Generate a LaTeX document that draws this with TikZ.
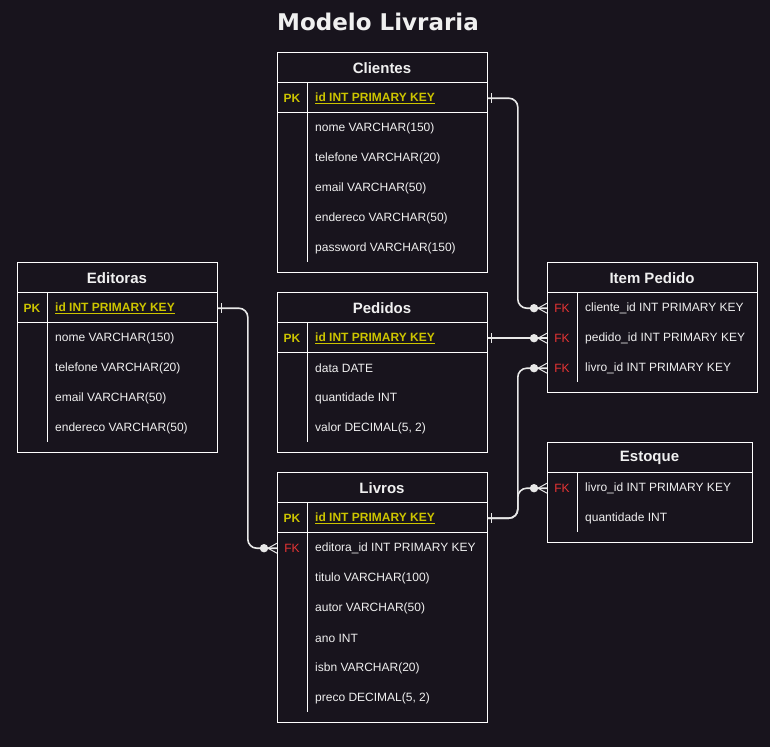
\documentclass[tikz,border=0pt]{standalone}
\usepackage{fontspec}
\setmainfont{Liberation Sans}
\newfontfamily\titlefont{DejaVu Sans}
\usepackage{tikz}
\usetikzlibrary{positioning}
\definecolor{bgdark}{RGB}{24,20,29}
\definecolor{txtc}{RGB}{240,240,240}
\definecolor{pkc}{RGB}{204,196,0}
\definecolor{fkc}{RGB}{232,52,52}
\definecolor{linkc}{RGB}{232,232,232}

% cardinality marks
\newcommand{\onemark}[1]{\draw[linkc, line width=1.2pt, shift={(#1)}] (4,-5) -- (4,5);}
\newcommand{\manymark}[1]{%
  \fill[linkc, shift={(#1)}] (-13,0) circle (4.2pt);
  \draw[linkc, line width=1pt, shift={(#1)}] (0,-5) -- (-9,0) -- (0,5);}

\begin{document}
\begin{tikzpicture}[x=1pt, y=-1pt,
    tbl/.style={draw=white, line width=0.8pt, fill=bgdark, anchor=north west, inner sep=0pt},
    thead/.style={text=txtc, yshift=-1pt, font=\bfseries\fontsize{15}{18}\selectfont},
    fld/.style={anchor=west, inner sep=0pt, yshift=-1.2pt, text=txtc, font=\fontsize{12}{14}\selectfont},
    pkfld/.style={fld, text=pkc, font=\bfseries\fontsize{12}{14}\selectfont},
    pk/.style={text=pkc, inner sep=0pt, yshift=-1.2pt, font=\bfseries\fontsize{12}{14}\selectfont},
    fk/.style={text=fkc, inner sep=0pt, yshift=-1.2pt, font=\fontsize{12}{14}\selectfont},
    rowline/.style={draw=white, line width=0.8pt},
    link/.style={linkc, line width=1.6pt, rounded corners=9pt},
  ]
  \useasboundingbox[fill=bgdark] (0,0) rectangle (770,747);

  \node[text=txtc, font=\titlefont\bfseries\fontsize{23}{28}\selectfont] (title) at (378,22) {Modelo Livraria};

  % Clientes
  \node[tbl, minimum width=210pt, minimum height=220pt] (cli) at (277,52) {};
  \node[thead] (cli-h) at (382,67) {Clientes};
  \draw[rowline] (277,82) -- (487,82) (277,112) -- (487,112) (307,82) -- (307,262);
  \node[pk] (cli-k) at (292,97) {PK};
  \node[pkfld] (cli-id) at (315,97) {\underline{id INT PRIMARY KEY}};
  \foreach \t [count=\i] in {nome VARCHAR(150), telefone VARCHAR(20), email VARCHAR(50),
      endereco VARCHAR(50), password VARCHAR(150)}
    \node[fld] (cli-\i) at (315,{97+30*\i}) {\t};

  % Editoras
  \node[tbl, minimum width=200pt, minimum height=190pt] (edi) at (17,262) {};
  \node[thead] (edi-h) at (117,277) {Editoras};
  \draw[rowline] (17,292) -- (217,292) (17,322) -- (217,322) (47,292) -- (47,442);
  \node[pk] (edi-k) at (32,307) {PK};
  \node[pkfld] (edi-id) at (55,307) {\underline{id INT PRIMARY KEY}};
  \foreach \t [count=\i] in {nome VARCHAR(150), telefone VARCHAR(20), email VARCHAR(50),
      endereco VARCHAR(50)}
    \node[fld] (edi-\i) at (55,{307+30*\i}) {\t};

  % Pedidos
  \node[tbl, minimum width=210pt, minimum height=160pt] (ped) at (277,292) {};
  \node[thead] (ped-h) at (382,307) {Pedidos};
  \draw[rowline] (277,322) -- (487,322) (277,352) -- (487,352) (307,322) -- (307,442);
  \node[pk] (ped-k) at (292,337) {PK};
  \node[pkfld] (ped-id) at (315,337) {\underline{id INT PRIMARY KEY}};
  \foreach \t [count=\i] in {data DATE, quantidade INT, {valor DECIMAL(5, 2)}}
    \node[fld] (ped-\i) at (315,{337+30*\i}) {\t};

  % Livros
  \node[tbl, minimum width=210pt, minimum height=250pt] (liv) at (277,472) {};
  \node[thead] (liv-h) at (382,487) {Livros};
  \draw[rowline] (277,502) -- (487,502) (277,532) -- (487,532) (307,502) -- (307,712);
  \node[pk] (liv-k) at (292,517) {PK};
  \node[pkfld] (liv-id) at (315,517) {\underline{id INT PRIMARY KEY}};
  \node[fk] (liv-f) at (292,547) {FK};
  \node[fld] (liv-fk) at (315,547) {editora\_id INT PRIMARY KEY};
  \foreach \t [count=\i] in {titulo VARCHAR(100), autor VARCHAR(50), ano INT,
      isbn VARCHAR(20), {preco DECIMAL(5, 2)}}
    \node[fld] (liv-\i) at (315,{547+30*\i}) {\t};

  % Item Pedido
  \node[tbl, minimum width=210pt, minimum height=130pt] (ipd) at (547,262) {};
  \node[thead] (ipd-h) at (652,277) {Item Pedido};
  \draw[rowline] (547,292) -- (757,292) (577,292) -- (577,382);
  \foreach \t [count=\i] in {cliente\_id INT PRIMARY KEY, pedido\_id INT PRIMARY KEY,
      livro\_id INT PRIMARY KEY} {
    \node[fk] (ipd-f\i) at (562,{277+30*\i}) {FK};
    \node[fld] (ipd-\i) at (585,{277+30*\i}) {\t};
  }

  % Estoque
  \node[tbl, minimum width=205pt, minimum height=100pt] (est) at (547,442) {};
  \node[thead] (est-h) at (649.5,457) {Estoque};
  \draw[rowline] (547,472) -- (752,472) (577,472) -- (577,532);
  \node[fk] (est-f) at (562,487) {FK};
  \node[fld] (est-1) at (585,487) {livro\_id INT PRIMARY KEY};
  \node[fld] (est-2) at (585,517) {quantidade INT};

  % relationships
  \coordinate (s1) at (cli.east |- cli-k);
  \coordinate (s2) at (ped.east |- ped-k);
  \coordinate (s3) at (liv.east |- liv-k);
  \coordinate (s5) at (edi.east |- edi-k);
  \coordinate (e1) at (ipd.west |- ipd-f1);
  \coordinate (e2) at (ipd.west |- ipd-f2);
  \coordinate (e3) at (ipd.west |- ipd-f3);
  \coordinate (e4) at (est.west |- est-f);
  \coordinate (e5) at (liv.west |- liv-f);

  \draw[link] (s1) -- ++(30,0) |- (e1);
  \draw[link] (s2) -- (e2);
  \draw[link] (s3) -- ++(30,0) |- (e3);
  \draw[link] (s3) -- ++(30,0) |- (e4);
  \draw[link] (s5) -- ++(30,0) |- (e5);

  \onemark{s1} \onemark{s2} \onemark{s3} \onemark{s5}
  \manymark{e1} \manymark{e2} \manymark{e3} \manymark{e4} \manymark{e5}
\end{tikzpicture}
\end{document}
